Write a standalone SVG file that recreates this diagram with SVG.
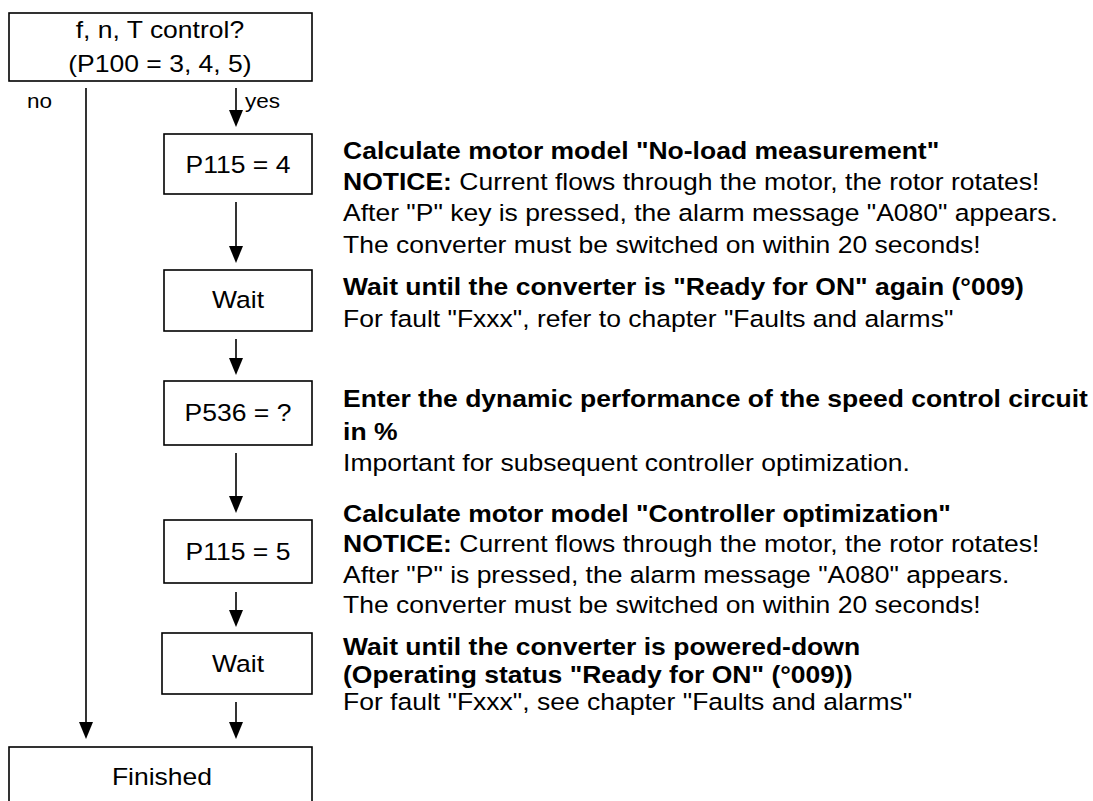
<svg xmlns="http://www.w3.org/2000/svg" width="1093" height="801" viewBox="0 0 1093 801">
<style>
.box{fill:#fff;stroke:#000;stroke-width:1.6}
.t{font-family:"Liberation Sans",Arial,sans-serif;font-size:23.5px;fill:#000}
.s{font-size:20px}
.c{text-anchor:middle}
.b{font-weight:bold}
.ln{stroke:#000;stroke-width:1.6;fill:none}
</style>
<rect width="1093" height="801" fill="#fff"/>
<g id="connectors">
<path class="ln" d="M236,88 V110"/><path d="M229,110 L243,110 L236,127 Z"/>
<path class="ln" d="M236,202 V246"/><path d="M229,246 L243,246 L236,263 Z"/>
<path class="ln" d="M236,339 V358"/><path d="M229,358 L243,358 L236,375 Z"/>
<path class="ln" d="M236,453 V496"/><path d="M229,496 L243,496 L236,513 Z"/>
<path class="ln" d="M236,592 V610"/><path d="M229,610 L243,610 L236,627 Z"/>
<path class="ln" d="M236,702 V722"/><path d="M229,722 L243,722 L236,739 Z"/>
<path class="ln" d="M86,88 V722"/><path d="M79,722 L93,722 L86,739 Z"/>
<g transform="scale(1.128 1)">
<text class="t s" x="23.9" y="108">no</text>
<text class="t s" x="217.2" y="108">yes</text>
</g>
</g>
<g id="n1">
<rect class="box" x="9" y="13" width="303" height="68"/>
<g transform="scale(1.128 1)">
<text class="t c" x="141.8" y="38">f, n, T control?</text>
<text class="t c" x="141.8" y="72">(P100 = 3, 4, 5)</text>
</g>
</g>
<g id="n2">
<rect class="box" x="164" y="134" width="148" height="60"/>
<text class="t c" transform="scale(1.128 1)" x="211" y="173">P115 = 4</text>
</g>
<g id="n3">
<rect class="box" x="164" y="270" width="148" height="61"/>
<text class="t c" transform="scale(1.128 1)" x="211" y="308">Wait</text>
</g>
<g id="n4">
<rect class="box" x="164" y="381" width="148" height="64"/>
<text class="t c" transform="scale(1.128 1)" x="211" y="421">P536 = ?</text>
</g>
<g id="n5">
<rect class="box" x="164" y="520" width="148" height="63"/>
<text class="t c" transform="scale(1.128 1)" x="211" y="560">P115 = 5</text>
</g>
<g id="n6">
<rect class="box" x="162" y="633" width="150" height="61"/>
<text class="t c" transform="scale(1.128 1)" x="211" y="672">Wait</text>
</g>
<g id="n7">
<rect class="box" x="9" y="747" width="303" height="70"/>
<text class="t c" transform="scale(1.128 1)" x="143.6" y="785">Finished</text>
</g>
<g id="notes" transform="scale(1.128 1)">
<text class="t b" x="304.1" y="159">Calculate motor model "No-load measurement"</text>
<text class="t" x="304.1" y="190"><tspan class="b">NOTICE:</tspan> Current flows through the motor, the rotor rotates!</text>
<text class="t" x="304.1" y="221">After "P" key is pressed, the alarm message "A080" appears.</text>
<text class="t" x="304.1" y="253">The converter must be switched on within 20 seconds!</text>
<text class="t b" x="304.1" y="295">Wait until the converter is "Ready for ON" again (°009)</text>
<text class="t" x="304.1" y="327">For fault "Fxxx", refer to chapter "Faults and alarms"</text>
<text class="t b" x="304.1" y="407">Enter the dynamic performance of the speed control circuit</text>
<text class="t b" x="304.1" y="440">in %</text>
<text class="t" x="304.1" y="471">Important for subsequent controller optimization.</text>
<text class="t b" x="304.1" y="522">Calculate motor model "Controller optimization"</text>
<text class="t" x="304.1" y="552"><tspan class="b">NOTICE:</tspan> Current flows through the motor, the rotor rotates!</text>
<text class="t" x="304.1" y="583">After "P" is pressed, the alarm message "A080" appears.</text>
<text class="t" x="304.1" y="613">The converter must be switched on within 20 seconds!</text>
<text class="t b" x="304.1" y="655">Wait until the converter is powered-down</text>
<text class="t b" x="304.1" y="683">(Operating status "Ready for ON" (°009))</text>
<text class="t" x="304.1" y="710">For fault "Fxxx", see chapter "Faults and alarms"</text>
</g>
</svg>
